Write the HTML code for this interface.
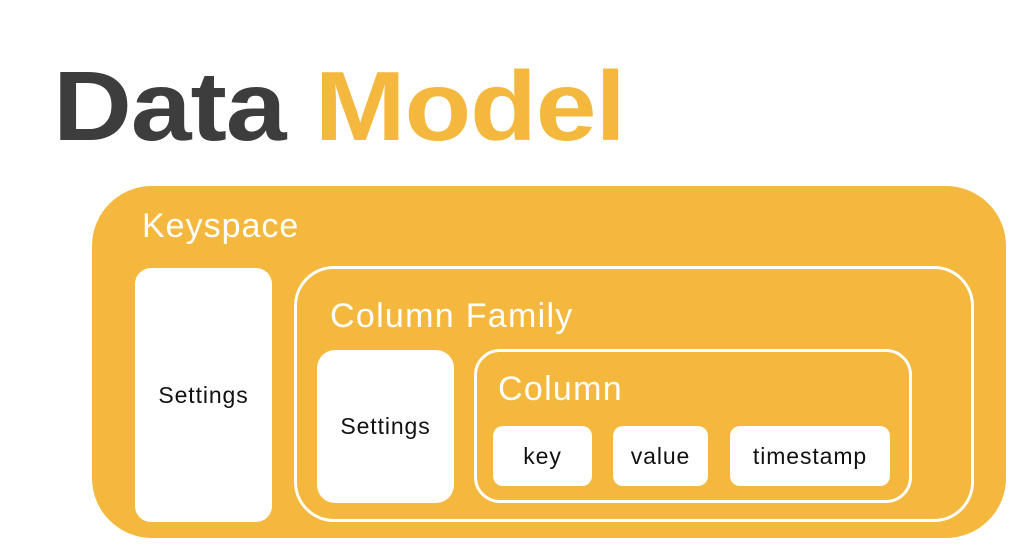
<!DOCTYPE html>
<html><head><style>
body{margin:0;width:1020px;height:549px;background:#fff;position:relative;overflow:hidden;font-family:"Liberation Sans",sans-serif}
div{position:absolute;box-sizing:border-box}
.t{white-space:nowrap}
.w{background:#fff;color:#111;display:flex;align-items:center;justify-content:center;font-size:23px;letter-spacing:0.9px}
.l{font-size:34px;color:#fff;line-height:40px;letter-spacing:1.3px}
</style></head><body>
<div class="t" style="left:53px;top:46px;font-size:98px;font-weight:bold;letter-spacing:-1px;line-height:120px;transform:scaleX(1.115);transform-origin:left"><span style="color:#3d3d3d">Data</span> <span style="color:#f4b83e">Model</span></div>
<div style="left:92px;top:186px;width:914px;height:352px;background:#f4b83e;border-radius:60px"></div>
<div class="t l" style="left:142px;top:206px;letter-spacing:1px">Keyspace</div>
<div class="w" style="left:135px;top:268px;width:137px;height:254px;border-radius:16px">Settings</div>
<div style="left:294px;top:266px;width:680px;height:256px;border:3px solid #fff;border-radius:40px"></div>
<div class="t l" style="left:330px;top:296px">Column Family</div>
<div class="w" style="left:317px;top:350px;width:137px;height:153px;border-radius:18px">Settings</div>
<div style="left:474px;top:349px;width:438px;height:154px;border:3px solid #fff;border-radius:26px"></div>
<div class="t l" style="left:498px;top:369px">Column</div>
<div class="w" style="left:493px;top:426px;width:99px;height:60px;border-radius:10px">key</div>
<div class="w" style="left:613px;top:426px;width:95px;height:60px;border-radius:10px">value</div>
<div class="w" style="left:730px;top:426px;width:160px;height:60px;border-radius:10px">timestamp</div>
</body></html>
